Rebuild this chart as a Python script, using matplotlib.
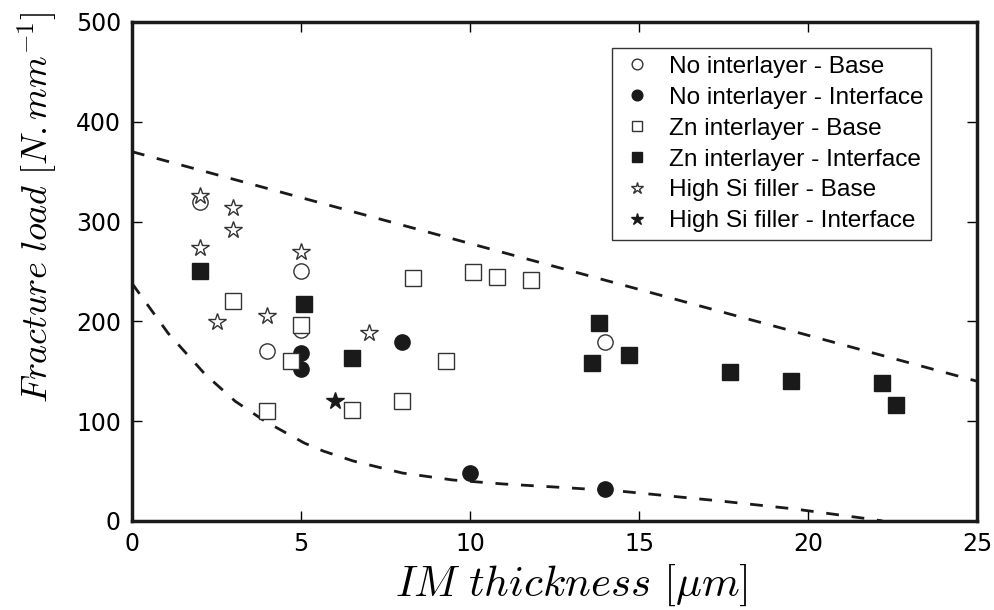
import matplotlib
matplotlib.use('Agg')
import matplotlib.pyplot as plt

plt.rcParams['mathtext.fontset'] = 'cm'
plt.rcParams['font.family'] = 'DejaVu Sans'

no_base_x = [2.0, 4.0, 5.0, 5.0, 14.0]
no_base_y = [320, 170, 250, 191, 179]
no_intf_x = [5.0, 5.0, 8.0, 10.0, 14.0]
no_intf_y = [168, 152, 179, 48, 32]
zn_base_x = [3.0, 4.0, 4.7, 5.0, 6.5, 8.0, 8.3, 9.3, 10.1, 10.8, 11.8]
zn_base_y = [220, 110, 160, 196, 111, 120, 243, 160, 249, 244, 241]
zn_intf_x = [2.0, 5.1, 6.5, 13.8, 13.6, 14.7, 17.7, 19.5, 22.2, 22.6]
zn_intf_y = [250, 217, 163, 198, 158, 166, 149, 140, 138, 116]
si_base_x = [2.0, 3.0, 3.0, 2.0, 2.5, 4.0, 5.0, 7.0]
si_base_y = [326, 314, 292, 273, 199, 205, 269, 188]
si_intf_x = [6.0]
si_intf_y = [120]

# bounding lines (upper limit and lower limit)
upper_x = [0, 25]
upper_y = [370, 140]
lower_x = [0, 1.07, 2.16, 3.05, 3.93, 5.1, 5.66, 6.55, 8.0, 9.5, 11.0, 12.5, 14.4, 17.4, 19.6, 21.8, 22.2]
lower_y = [238, 188, 147, 120, 100, 78, 70, 60, 48, 41, 37, 34, 30, 20, 12, 2, 0]

dark = '#1a1a1a'

fig = plt.figure(figsize=(9.95, 6.1), dpi=100)
ax = fig.add_axes([0.1327, 0.146, 0.8493, 0.818])

dash = (0, (4.6, 4.6))
ax.plot(upper_x, upper_y, color=dark, lw=2, linestyle=dash)
ax.plot(lower_x, lower_y, color=dark, lw=2, linestyle=dash)

ax.plot(no_base_x, no_base_y, 'o', ms=11, mfc='white', mec='#333333', mew=1,
        label='No interlayer - Base')
ax.plot(no_intf_x, no_intf_y, 'o', ms=11, mfc=dark, mec=dark, mew=1,
        label='No interlayer - Interface')
ax.plot(zn_base_x, zn_base_y, 's', ms=11, mfc='white', mec='#333333', mew=1,
        label='Zn interlayer - Base')
ax.plot(zn_intf_x, zn_intf_y, 's', ms=11, mfc=dark, mec=dark, mew=1,
        label='Zn interlayer - Interface')
ax.plot(si_base_x, si_base_y, '*', ms=13, mfc='white', mec='#333333', mew=1,
        label='High Si filler - Base')
ax.plot(si_intf_x, si_intf_y, '*', ms=13, mfc=dark, mec=dark, mew=1,
        label='High Si filler - Interface')

ax.set_xlim(0, 25)
ax.set_ylim(0, 500)
ax.set_xticks([0, 5, 10, 15, 20, 25])
ax.set_yticks([0, 100, 200, 300, 400, 500])
ax.tick_params(direction='in', top=True, right=True, length=7, width=1,
               labelsize=17, pad=8)
for s in ax.spines.values():
    s.set_linewidth(2.5)
    s.set_color(dark)

ax.set_xlabel(r'$IM\ thickness\ [\mu m]$', fontsize=31)
ax.set_ylabel(r'$Fracture\ load\ [N.mm^{-1}]$', fontsize=26)
ax.xaxis.set_label_coords(0.52, -0.084)
ax.yaxis.set_label_coords(-0.085, 0.628)

leg = ax.legend(loc='upper right', bbox_to_anchor=(0.9456, 0.948), numpoints=1,
                markerscale=0.7, fancybox=False, framealpha=1, edgecolor='#333333',
                prop={'family': 'Liberation Sans', 'size': 17.6},
                borderpad=0.32, labelspacing=0.36, handlelength=1.4, handletextpad=0.6,
                borderaxespad=0)
leg.get_frame().set_linewidth(1)

fig.savefig('out.png', dpi=100)
